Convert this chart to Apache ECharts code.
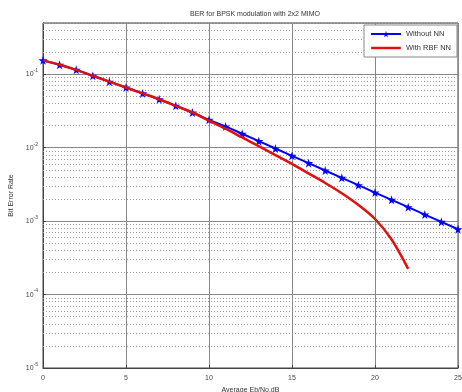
<!DOCTYPE html>
<html>
<head>
<meta charset="utf-8">
<script src="https://cdn.jsdelivr.net/npm/echarts@6/dist/echarts.min.js"></script>
<style>html,body{margin:0;padding:0;background:#fff}#c{width:462px;height:392px}</style>
</head>
<body>
<div id="c"></div>
<script>
var snrWithout = [0,1,2,3,4,5,6,7,8,9,10,11,12,13,14,15,16,17,18,19,20,21,22,23,24,25];
var berWithout = [0.155,0.135,0.115,0.0955,0.0794,0.0661,0.0550,0.0457,0.0372,0.0302,0.0240,0.0195,0.0155,0.0123,0.00977,0.00776,0.00617,0.00490,0.00389,0.00309,0.00245,0.00195,0.00155,0.00123,0.000977,0.000776];
var snrRbf = [0,1,2,3,4,5,6,7,8,9,10,11,12,13,14,15,16,17,18,19,20,21,22];
var berRbf = [0.155,0.135,0.115,0.0955,0.0794,0.0661,0.0550,0.0457,0.0372,0.0302,0.0234,0.0182,0.0138,0.0105,0.00794,0.00603,0.00447,0.00331,0.00240,0.00166,0.00107,0.000562,0.000224];
var xTicks = [0,5,10,15,20,25];
var yDecades = [-5,-4,-3,-2,-1];
var titleText = 'BER for BPSK modulation with 2x2 MIMO';
var xName = 'Average Eb/No,dB';
var yName = 'Bit Error Rate';
var seriesNames = ['Without NN','With RBF NN'];

var minorVals = [];
yDecades.forEach(function(n){
  for (var k = 2; k <= 9; k++) {
    var v = k * Math.pow(10, n);
    if (v <= 0.5) minorVals.push(v);
  }
});

var star = 'path://M50,0 L61,35 L98,35 L68,57 L79,91 L50,70 L21,91 L32,57 L2,35 L39,35 Z';
var thinLine = 'path://M0,0 L100,0 L100,0.01 Z M0,9.5 L100,9.5 L100,17.5 L0,17.5 Z M0,27 L100,27 L100,26.99 Z';
var chart = echarts.init(document.getElementById('c'), null, {renderer:'canvas'});
chart.setOption({
  animation: false,
  backgroundColor: '#fff',
  textStyle: {fontFamily: 'Liberation Sans, Arial, sans-serif'},
  title: {
    text: titleText, left: 250, top: 6, textAlign: 'center',
    textStyle: {fontSize: 7, fontWeight: 'normal', color: '#333'}
  },
  legend: {
    orient: 'vertical', right: 5, top: 25,
    backgroundColor: '#fff', borderColor: '#888', borderWidth: 1,
    padding: [5, 6, 5, 6], itemGap: 6, itemWidth: 30, itemHeight: 8,
    textStyle: {fontSize: 7.5, color: '#333'},
    data: [
      {name: seriesNames[0]},
      {name: seriesNames[1], icon: thinLine}
    ]
  },
  grid: {left: 43, right: 4, top: 23, bottom: 24, show: true, borderColor: '#444', borderWidth: 1, backgroundColor: '#fff', outerBoundsMode: 'none', containLabel: false},
  xAxis: {
    type: 'value', min: 0, max: 25, interval: 5,
    name: xName, nameLocation: 'middle', nameGap: 17,
    nameTextStyle: {fontSize: 7, color: '#333'},
    axisLine: {lineStyle: {color: '#444'}},
    axisTick: {inside: true, length: 3, lineStyle: {color: '#444'}},
    axisLabel: {fontSize: 7, color: '#444', margin: 7,
      formatter: function(v){ return xTicks.indexOf(v) >= 0 ? String(v) : ''; }},
    splitLine: {show: true, lineStyle: {color: '#888', width: 1}}
  },
  yAxis: {
    type: 'log', logBase: 10, min: 1e-5, max: 0.5, interval: 1,
    name: yName, nameLocation: 'middle', nameGap: 28, nameRotate: 90,
    nameTextStyle: {fontSize: 7, color: '#333'},
    axisLine: {lineStyle: {color: '#444'}},
    axisTick: {inside: true, length: 3, lineStyle: {color: '#444'}},
    axisLabel: {
      showMaxLabel: false, margin: 5, color: '#444',
      formatter: function(v){
        var e = Math.log10(v);
        var r = Math.round(e);
        if (Math.abs(e - r) > 1e-6 || yDecades.indexOf(r) < 0) return '';
        return '{b|10}{s|' + r + '}';
      },
      rich: {
        b: {fontSize: 7, color: '#444', lineHeight: 12},
        s: {fontSize: 5, color: '#444', verticalAlign: 'top', lineHeight: 12}
      }
    },
    splitLine: {show: true, lineStyle: {color: '#888', width: 1}}
  },
  series: [
    {
      name: 'minor', type: 'lines', coordinateSystem: 'cartesian2d', z: 1, silent: true,
      polyline: false,
      lineStyle: {color: '#9a9a9a', width: 1, type: [1, 2], opacity: 1},
      data: minorVals.map(function(v){ return {coords: [[0, v], [25, v]]}; })
    },
    {
      name: seriesNames[0], type: 'line', z: 3,
      data: snrWithout.map(function(x, i){ return [x, berWithout[i]]; }),
      color: '#0000ff',
      lineStyle: {color: '#0000ff', width: 2},
      symbol: star, symbolSize: 9, showSymbol: true,
      itemStyle: {color: '#0000ff'}
    },
    {
      name: seriesNames[1], type: 'line', z: 4, smooth: 0.3,
      data: snrRbf.map(function(x, i){ return [x, berRbf[i]]; }),
      color: '#e01010',
      lineStyle: {color: '#e01010', width: 2.5},
      symbol: 'none', showSymbol: false,
      itemStyle: {color: '#e01010'}
    }
  ]
});
</script>
</body>
</html>
